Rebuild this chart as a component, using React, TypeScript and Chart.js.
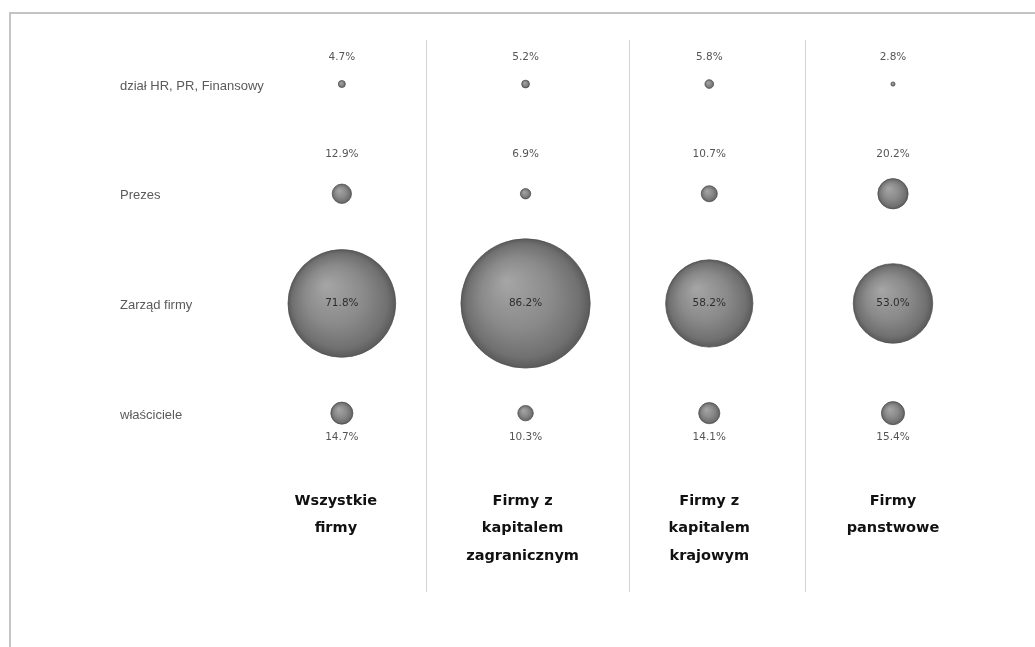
import React, { useEffect, useRef } from "react";
import { Chart, registerables } from "chart.js";

Chart.register(...registerables);

const columnTitles: string[][] = [
  ["Wszystkie", "firmy"],
  ["Firmy z", "kapitalem", "zagranicznym"],
  ["Firmy z", "kapitalem", "krajowym"],
  ["Firmy", "panstwowe"],
];
const rowLabels: string[] = ["dział HR, PR, Finansowy", "Prezes", "Zarząd firmy", "właściciele"];

const dzialHR: number[] = [4.7, 5.2, 5.8, 2.8];
const prezes: number[] = [12.9, 6.9, 10.7, 20.2];
const zarzad: number[] = [71.8, 86.2, 58.2, 53.0];
const wlasciciele: number[] = [14.7, 10.3, 14.1, 15.4];

const rows: number[][] = [dzialHR, prezes, zarzad, wlasciciele];

const R_SCALE = 0.75;
const SEPARATORS = [0.457, 1.563, 2.521];
const LABEL_OFFSETS = [-27, -39, 0, 24];

const labelPlugin = {
  id: "labelPlugin",
  beforeDatasetsDraw(chart: any) {
    const { ctx, scales } = chart;
    const y0 = scales.y.getPixelForValue(0);
    const y3 = scales.y.getPixelForValue(3);
    ctx.save();
    ctx.strokeStyle = "#d2d2d2";
    ctx.lineWidth = 1;
    SEPARATORS.forEach((s) => {
      const x = Math.round(scales.x.getPixelForValue(s)) + 0.5;
      ctx.beginPath();
      ctx.moveTo(x, y0 - 44);
      ctx.lineTo(x, y3 + 179);
      ctx.stroke();
    });
    ctx.fillStyle = "#5a5a5a";
    ctx.font = "13px 'Liberation Sans', Arial, sans-serif";
    ctx.textAlign = "left";
    ctx.textBaseline = "middle";
    rowLabels.forEach((l, i) => {
      ctx.fillText(l, 120, scales.y.getPixelForValue(i) + 2);
    });
    ctx.fillStyle = "#111";
    ctx.font = "bold 14.5px 'DejaVu Sans', sans-serif";
    ctx.textAlign = "center";
    columnTitles.forEach((lines, i) => {
      const x = scales.x.getPixelForValue(i) - (i === 0 ? 6 : i === 1 ? 3 : 0);
      lines.forEach((t, j) => {
        ctx.fillText(t, x, y3 + 88 + j * 27.5);
      });
    });
    ctx.restore();
  },
  afterDatasetsDraw(chart: any) {
    const { ctx, scales } = chart;
    ctx.save();
    ctx.font = "10.5px 'DejaVu Sans', sans-serif";
    ctx.textAlign = "center";
    ctx.textBaseline = "middle";
    rows.forEach((vals, r) => {
      vals.forEach((v, c) => {
        const x = scales.x.getPixelForValue(c);
        const y = scales.y.getPixelForValue(r) + LABEL_OFFSETS[r];
        ctx.fillStyle = r === 2 ? "#2e2e2e" : "#555";
        ctx.fillText(v.toFixed(1) + "%", x, y);
      });
    });
    ctx.restore();
  },
};

export default function App() {
  const ref = useRef<HTMLCanvasElement>(null);
  useEffect(() => {
    if (!ref.current) return;
    const datasets = rows.map((vals, r) => ({
      label: rowLabels[r],
      data: vals.map((v, c) => ({ x: c, y: r, r: v * R_SCALE })),
      clip: false as any,
      borderWidth: 1,
      borderColor: "rgba(80,80,80,0.75)",
      backgroundColor: (ctx: any) => {
        const chart = ctx.chart;
        const raw = ctx.raw;
        if (!raw || !chart.scales || !chart.scales.x || !chart.scales.y) return "#888";
        const cx = chart.scales.x.getPixelForValue(raw.x);
        const cy = chart.scales.y.getPixelForValue(raw.y);
        const rad = Math.max(raw.r, 1);
        if (!isFinite(cx) || !isFinite(cy)) return "#888";
        const g = chart.ctx.createRadialGradient(cx - rad * 0.3, cy - rad * 0.35, 0, cx, cy, rad);
        g.addColorStop(0, "#a6a6a6");
        g.addColorStop(0.55, "#8a8a8a");
        g.addColorStop(0.88, "#707070");
        g.addColorStop(1, "#5a5a5a");
        return g;
      },
    }));
    const chart = new Chart(ref.current, {
      type: "bubble",
      data: { datasets },
      options: {
        responsive: false,
        animation: false,
        events: [],
        layout: { padding: { left: 250, right: 70, top: 70, bottom: 179 } },
        plugins: { legend: { display: false }, tooltip: { enabled: false } },
        scales: {
          x: { type: "linear", min: -0.5, max: 3.392, display: false },
          y: { type: "linear", min: -0.128, max: 3.5, reverse: true, display: false },
        },
      },
      plugins: [labelPlugin],
    });
    return () => chart.destroy();
  }, []);
  return (
    <div style={{ position: "fixed", left: 0, top: 0, width: 1035, height: 647, background: "#fff" }}>
      <div
        style={{
          position: "absolute",
          left: 9,
          top: 12,
          width: 1040,
          height: 650,
          borderLeft: "2px solid #c4c4c4",
          borderTop: "2px solid #c4c4c4",
        }}
      />
      <canvas ref={ref} width={1035} height={647} style={{ position: "absolute", left: 0, top: 0 }} />
    </div>
  );
}
